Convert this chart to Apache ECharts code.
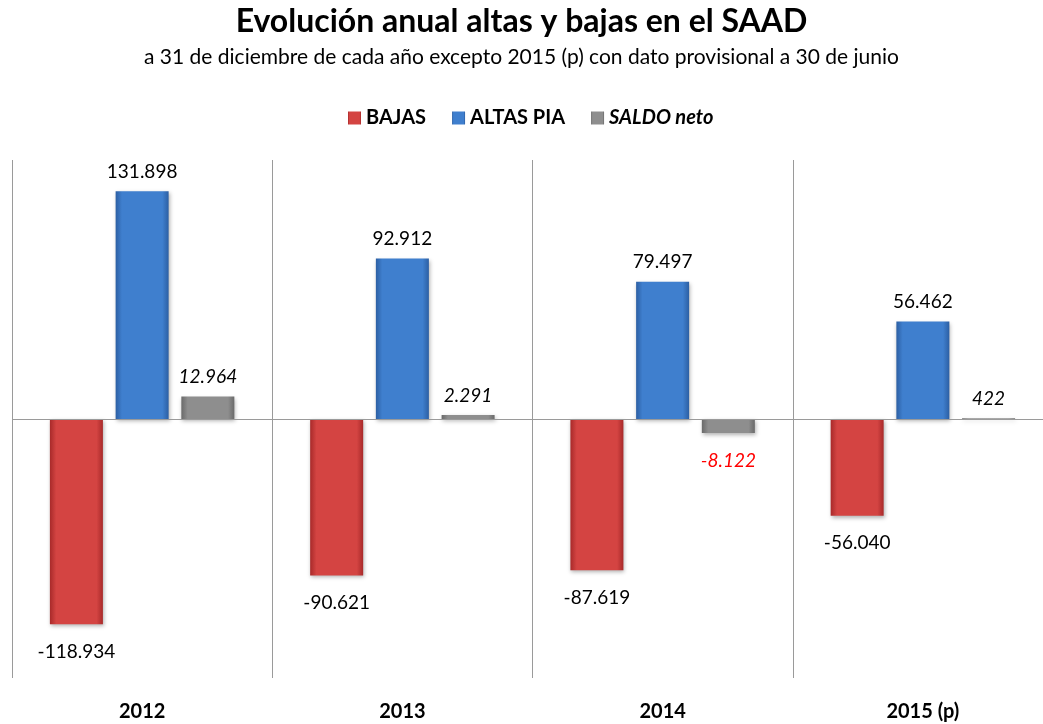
<!DOCTYPE html>
<html>
<head>
<meta charset="utf-8">
<script src="https://cdn.jsdelivr.net/npm/echarts@6/dist/echarts.min.js"></script>
<style>
  html, body { margin: 0; padding: 0; background: #fff; }
  #chart { width: 1043px; height: 724px; }
</style>
</head>
<body>
<div id="chart"></div>
<script>
// datos
const categories = ['2012', '2013', '2014', '2015 (p)'];
const bajas = [-118934, -90621, -87619, -56040];
const altas = [131898, 92912, 79497, 56462];
const saldo = [12964, 2291, -8122, 422];

const FONT = 'Lato, "Open Sans", sans-serif';

// formato español: 131.898
function fmt(v) {
  const s = String(Math.abs(v)).replace(/\B(?=(\d{3})+(?!\d))/g, '.');
  return (v < 0 ? '-' : '') + s;
}

// degradado horizontal para simular el bisel
function bevel(edge, mid) {
  return new echarts.graphic.LinearGradient(0, 0, 1, 0, [
    { offset: 0, color: edge },
    { offset: 0.12, color: mid },
    { offset: 0.88, color: mid },
    { offset: 1, color: edge }
  ]);
}

function barData(values, italic, negRed) {
  return values.map(v => ({
    value: v,
    label: {
      position: v < 0 ? 'bottom' : 'top',
      distance: v < 0 ? 18 : 10,
      color: (negRed && v < 0) ? '#ff0000' : '#000',
      fontStyle: italic ? 'italic' : 'normal'
    }
  }));
}

const baseLabel = {
  show: true,
  fontFamily: FONT,
  fontSize: 19,
  formatter: p => fmt(p.value)
};

const shadow = {
  shadowBlur: 4,
  shadowOffsetX: 1,
  shadowOffsetY: 2,
  shadowColor: 'rgba(0,0,0,0.3)'
};

const chart = echarts.init(document.getElementById('chart'));
chart.setOption({
  animation: false,
  backgroundColor: '#fff',
  title: {
    text: 'Evolución anual altas y bajas en el SAAD',
    subtext: 'a 31 de diciembre de cada año excepto 2015 (p) con dato provisional a 30 de junio',
    left: 'center',
    top: 1,
    itemGap: 9,
    textStyle: { fontFamily: FONT, fontSize: 32, fontWeight: 'bold', color: '#000' },
    subtextStyle: { fontFamily: FONT, fontSize: 21, color: '#000' }
  },
  legend: {
    top: 103,
    left: 343,
    icon: 'rect',
    itemWidth: 13,
    itemHeight: 13,
    itemGap: 26,
    textStyle: { fontFamily: FONT, fontSize: 20, fontWeight: 'bold', color: '#000' },
    data: [
      { name: 'BAJAS' },
      { name: 'ALTAS PIA' },
      { name: 'SALDO neto', textStyle: { fontStyle: 'italic' } }
    ]
  },
  grid: { left: 12, top: 160, width: 1041, height: 518, containLabel: false, outerBoundsMode: 'none' },
  xAxis: {
    type: 'category',
    data: categories,
    axisLine: { show: false },
    axisTick: { show: false },
    splitLine: { show: true, lineStyle: { color: '#9a9a9a', width: 1 } },
    axisLabel: { fontFamily: FONT, fontSize: 20, fontWeight: 'bold', color: '#000', margin: 24 }
  },
  yAxis: {
    type: 'value',
    min: -150000,
    max: 150000,
    interval: 150000,
    show: false
  },
  series: [
    {
      name: 'BAJAS',
      type: 'bar',
      barWidth: 53,
      barGap: '24%',
      data: barData(bajas, false, false),
      label: baseLabel,
      itemStyle: Object.assign({ color: bevel('#a82a2a', '#d44442') }, shadow),
      markLine: {
        silent: true,
        symbol: 'none',
        label: { show: false },
        lineStyle: { color: '#9a9a9a', type: 'solid', width: 1 },
        data: [{ yAxis: 0 }]
      }
    },
    {
      name: 'ALTAS PIA',
      type: 'bar',
      barWidth: 53,
      barGap: '24%',
      data: barData(altas, false, false),
      label: baseLabel,
      itemStyle: Object.assign({ color: bevel('#2c5fa3', '#3f7fce') }, shadow)
    },
    {
      name: 'SALDO neto',
      type: 'bar',
      barWidth: 53,
      barGap: '24%',
      data: barData(saldo, true, true),
      label: baseLabel,
      itemStyle: Object.assign({ color: bevel('#6a6a6a', '#8e8e8e') }, shadow)
    }
  ]
});
</script>
</body>
</html>
